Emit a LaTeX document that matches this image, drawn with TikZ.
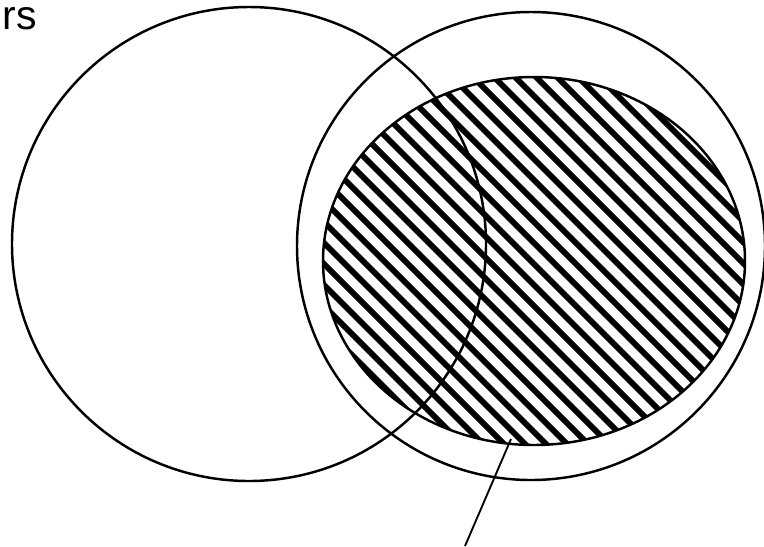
\documentclass[tikz,border=0pt]{standalone}
\usepackage{fontspec}
\setmainfont{Liberation Sans}
\usetikzlibrary{positioning,calc}

\tikzset{
  outline/.style={draw=black,line width=2.1pt},
  hatchline/.style={black,line width=5pt},
}

\begin{document}
\begin{tikzpicture}[x=0.03cm,y=-0.03cm]
\useasboundingbox (0,0) rectangle (764,546);
\coordinate (A) at (249,244);
\coordinate (B) at (531,246);
\coordinate (E) at (534,261);
% hatched part
\begin{scope}
\clip (E) ellipse[x radius=211,y radius=184];
\foreach \c in {-150,-129,...,720}
  \draw[hatchline] (\c+40,40) -- (\c+480,480);
\end{scope}
\draw[outline] (A) circle[radius=237];
\draw[outline] (B) circle[radius=234];
\draw[outline] (E) ellipse[x radius=211,y radius=184];
\coordinate (p) at (511,439);
\coordinate (q) at (465,546);
\draw[line width=1.6pt] (p) -- (q);
\node[anchor=base east,inner sep=0pt,text height=1.1ex,font=\fontsize{35}{35}\selectfont] (lbl) at (37,29) {rs};
\end{tikzpicture}
\end{document}
